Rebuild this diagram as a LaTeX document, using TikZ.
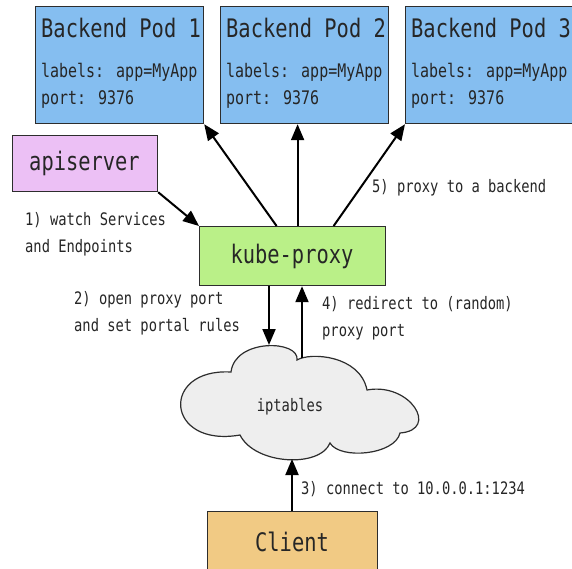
\documentclass[tikz,border=0pt]{standalone}
\usepackage{fontspec}
\usetikzlibrary{arrows.meta,calc}
\newfontfamily\monof[FakeStretch=0.8]{DejaVu Sans Mono}
\definecolor{podc}{RGB}{133,190,240}
\definecolor{apic}{RGB}{236,192,245}
\definecolor{kpc}{RGB}{186,240,136}
\definecolor{cloudc}{RGB}{238,238,238}
\definecolor{clic}{RGB}{241,202,132}
\definecolor{linec}{RGB}{45,45,45}
\tikzset{
  boxst/.style={draw=linec, line width=1.2pt, inner sep=0pt, anchor=north west},
  bigt/.style={font=\monof\fontsize{25.5}{30}\selectfont, inner sep=0pt, text=black!85},
  podt/.style={font=\monof\fontsize{18.7}{22}\selectfont, inner sep=0pt, text=black!85},
  labt/.style={font=\monof\fontsize{17.2}{20}\selectfont, inner sep=0pt, text=black!85},
  arr/.style={line width=2pt, draw=black, -{Triangle[length=16pt,width=13pt]}},
}
\begin{document}
\begin{tikzpicture}[x=1pt,y=-1pt]
\useasboundingbox[fill=white] (0,0) rectangle (572,568);
% pods
\node[boxst, fill=podc, minimum width=168pt, minimum height=117pt] (pod1) at (35,6) {};
\node[boxst, fill=podc, minimum width=168pt, minimum height=117pt] (pod2) at (220,6) {};
\node[boxst, fill=podc, minimum width=168pt, minimum height=117pt] (pod3) at (405,6) {};
\foreach \p/\x/\n in {pod1/41/1, pod2/226/2, pod3/411/3}{
  \node[bigt, anchor=base west] (\p t) at (\x,37) {Backend Pod \n};
  \node[podt, anchor=base west] (\p l) at (\x,77) {labels: app=MyApp};
  \node[podt, anchor=base west] (\p p) at (\x,104) {port: 9376};
}
% apiserver
\node[boxst, fill=apic, minimum width=145pt, minimum height=56pt] (api) at (12,135) {};
\node[bigt, anchor=base] (apit) at (84.5,170) {apiserver};
% kube-proxy
\node[boxst, fill=kpc, minimum width=186pt, minimum height=59pt] (kp) at (199,226) {};
\node[bigt, anchor=base] (kpt) at (292,263) {kube-proxy};
% client
\node[boxst, fill=clic, minimum width=170pt, minimum height=80pt] (cli) at (207,511) {};
\node[bigt, anchor=base] (clit) at (292,551) {Client};
% cloud
\path[draw=linec, line width=1.2pt, fill=cloudc]
  (231,372) .. controls (235,338) and (300,340) .. (297,360)
  .. controls (310,352) and (360,355) .. (367,390)
  .. controls (410,382) and (440,430) .. (400,433)
  .. controls (395,455) and (340,460) .. (330,443)
  .. controls (320,468) and (255,465) .. (240,435)
  .. controls (165,448) and (160,368) .. (231,372) -- cycle;
\coordinate (cltop) at (269,345);
\coordinate (clup) at (302,358);
\coordinate (clbot) at (292,459);
\node[labt, anchor=base] (iptt) at (290,411) {iptables};
% arrows
\draw[arr] (api.south east) -- (kp.north west);
\draw[arr] ([xshift=-16pt]kp.north) -- (pod1.south east);
\draw[arr] ([xshift=5pt]kp.north) -- ([xshift=5pt]kp.north |- pod2.south);
\draw[arr] ([xshift=41pt]kp.north) -- (pod3.south west);
\draw[arr] (kp.south -| cltop) -- (cltop);
\draw[arr] (clup) -- (kp.south -| clup);
\draw[arr] (cli.north -| clbot) -- (clbot);
% labels
\node[labt, anchor=base west] (l1a) at (25,225) {1) watch Services};
\node[labt, anchor=base west] (l1b) at (25,252) {and Endpoints};
\node[labt, anchor=base west] (l5) at (372,192) {5) proxy to a backend};
\node[labt, anchor=base west] (l2a) at (74,304) {2) open proxy port};
\node[labt, anchor=base west] (l2b) at (74,331) {and set portal rules};
\node[labt, anchor=base west] (l4a) at (322,309) {4) redirect to (random)};
\node[labt, anchor=base west] (l4b) at (322,336) {proxy port};
\node[labt, anchor=base west] (l3) at (301,494) {3) connect to 10.0.0.1:1234};
\end{tikzpicture}
\end{document}
